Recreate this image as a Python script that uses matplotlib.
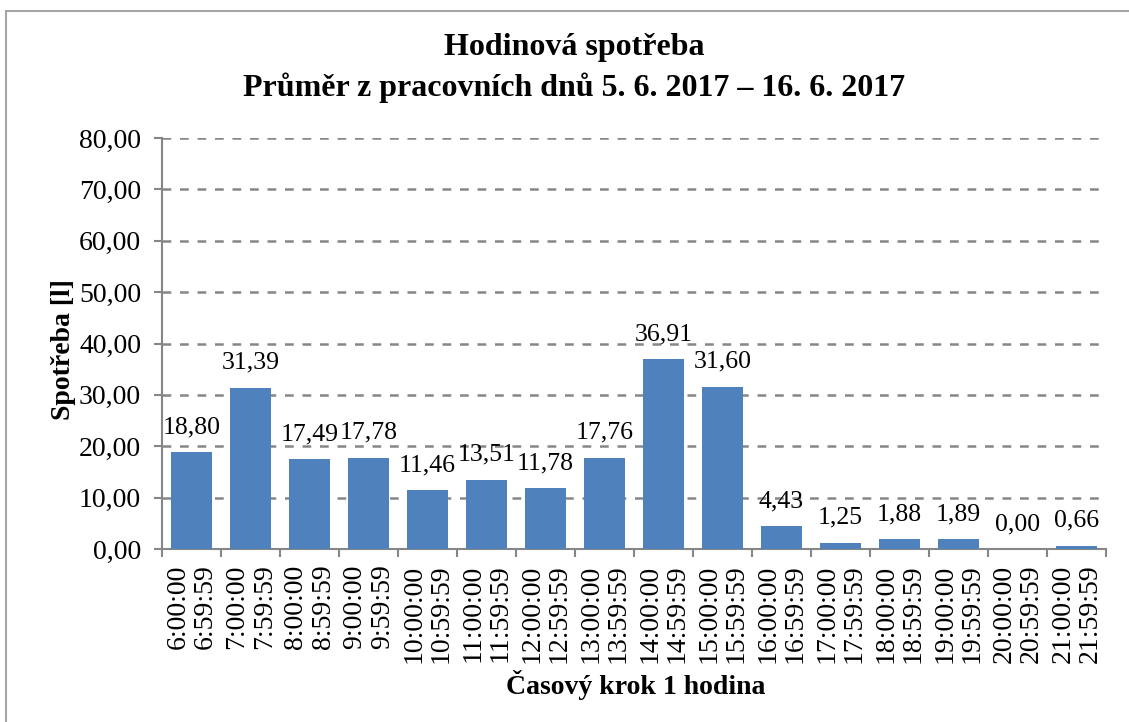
import matplotlib.pyplot as plt
from matplotlib.patches import Rectangle

plt.rcParams['font.family'] = ['Liberation Serif', 'DejaVu Serif']

# Hourly intervals (start / end) and average consumption in litres
starts = ['6:00:00', '7:00:00', '8:00:00', '9:00:00', '10:00:00', '11:00:00',
          '12:00:00', '13:00:00', '14:00:00', '15:00:00', '16:00:00', '17:00:00',
          '18:00:00', '19:00:00', '20:00:00', '21:00:00']
ends = ['6:59:59', '7:59:59', '8:59:59', '9:59:59', '10:59:59', '11:59:59',
        '12:59:59', '13:59:59', '14:59:59', '15:59:59', '16:59:59', '17:59:59',
        '18:59:59', '19:59:59', '20:59:59', '21:59:59']
consumption = [18.80, 31.39, 17.49, 17.78, 11.46, 13.51, 11.78, 17.76,
               36.91, 31.60, 4.43, 1.25, 1.88, 1.89, 0.00, 0.66]

W, H = 1129, 722
BAR_COLOR = '#4f81bd'
GRAY = '#868686'
FS = 20


def fmt(v):
    """Format a number with a decimal comma."""
    return f'{v:.2f}'.replace('.', ',')


def main():
    fig = plt.figure(figsize=(W / 100, H / 100), dpi=100)
    ax = fig.add_axes([162 / W, 1 - 549 / H, 944 / W, 411 / H])

    # outer chart frame
    fig.patches.append(Rectangle((6 / W, -0.1), 1.2, (H - 11) / H + 0.1,
                                 transform=fig.transFigure, fill=False,
                                 edgecolor='#a6a6a6', linewidth=1.5))

    x = list(range(len(consumption)))
    ax.bar(x, consumption, width=0.68, color=BAR_COLOR, zorder=3)

    for xi, v in zip(x, consumption):
        ax.annotate(fmt(v), (xi, v), xytext=(0, 10), textcoords='offset points',
                    ha='center', va='bottom', fontsize=18.5)

    ax.set_xlim(-0.5, len(consumption) - 0.5)
    ax.set_ylim(0, 80)
    yt = list(range(0, 81, 10))
    ax.set_yticks(yt)
    ax.set_yticklabels([fmt(t) for t in yt], fontsize=FS)

    # ticks at category boundaries, labels at category centres
    ax.set_xticks([i - 0.5 for i in range(len(consumption) + 1)])
    ax.set_xticklabels([])
    ax.set_xticks(x, minor=True)
    ax.set_xticklabels([f'{s}\n{e}' for s, e in zip(starts, ends)], minor=True,
                       rotation=90, fontsize=FS, linespacing=1.12, va='top')
    ax.tick_params(axis='x', which='minor', length=0, pad=11)
    ax.tick_params(axis='x', which='major', length=6, width=1.5, color=GRAY)
    ax.tick_params(axis='y', length=6, width=1.5, color=GRAY, pad=9)

    for t in yt[1:]:
        ax.axhline(t, color=GRAY, linewidth=1.8, linestyle=(0, (3.5, 3.5)), zorder=1)

    for side in ['top', 'right']:
        ax.spines[side].set_visible(False)
    for side in ['left', 'bottom']:
        ax.spines[side].set_color(GRAY)
        ax.spines[side].set_linewidth(1.5)

    fig.text(574 / W, 1 - 47 / H, 'Hodinová spotřeba', ha='center', va='center',
             fontsize=23, fontweight='bold')
    fig.text(574 / W, 1 - 88 / H, 'Průměr z pracovních dnů 5. 6. 2017 – 16. 6. 2017',
             ha='center', va='center', fontsize=23, fontweight='bold')
    fig.text(63 / W, 1 - 350 / H, 'Spotřeba [l]', ha='center', va='center',
             rotation=90, fontsize=FS, fontweight='bold')
    fig.text(636 / W, 1 - 685 / H, 'Časový krok 1 hodina', ha='center', va='center',
             fontsize=FS, fontweight='bold')

    fig.savefig('out.png', dpi=100)


if __name__ == '__main__':
    main()
